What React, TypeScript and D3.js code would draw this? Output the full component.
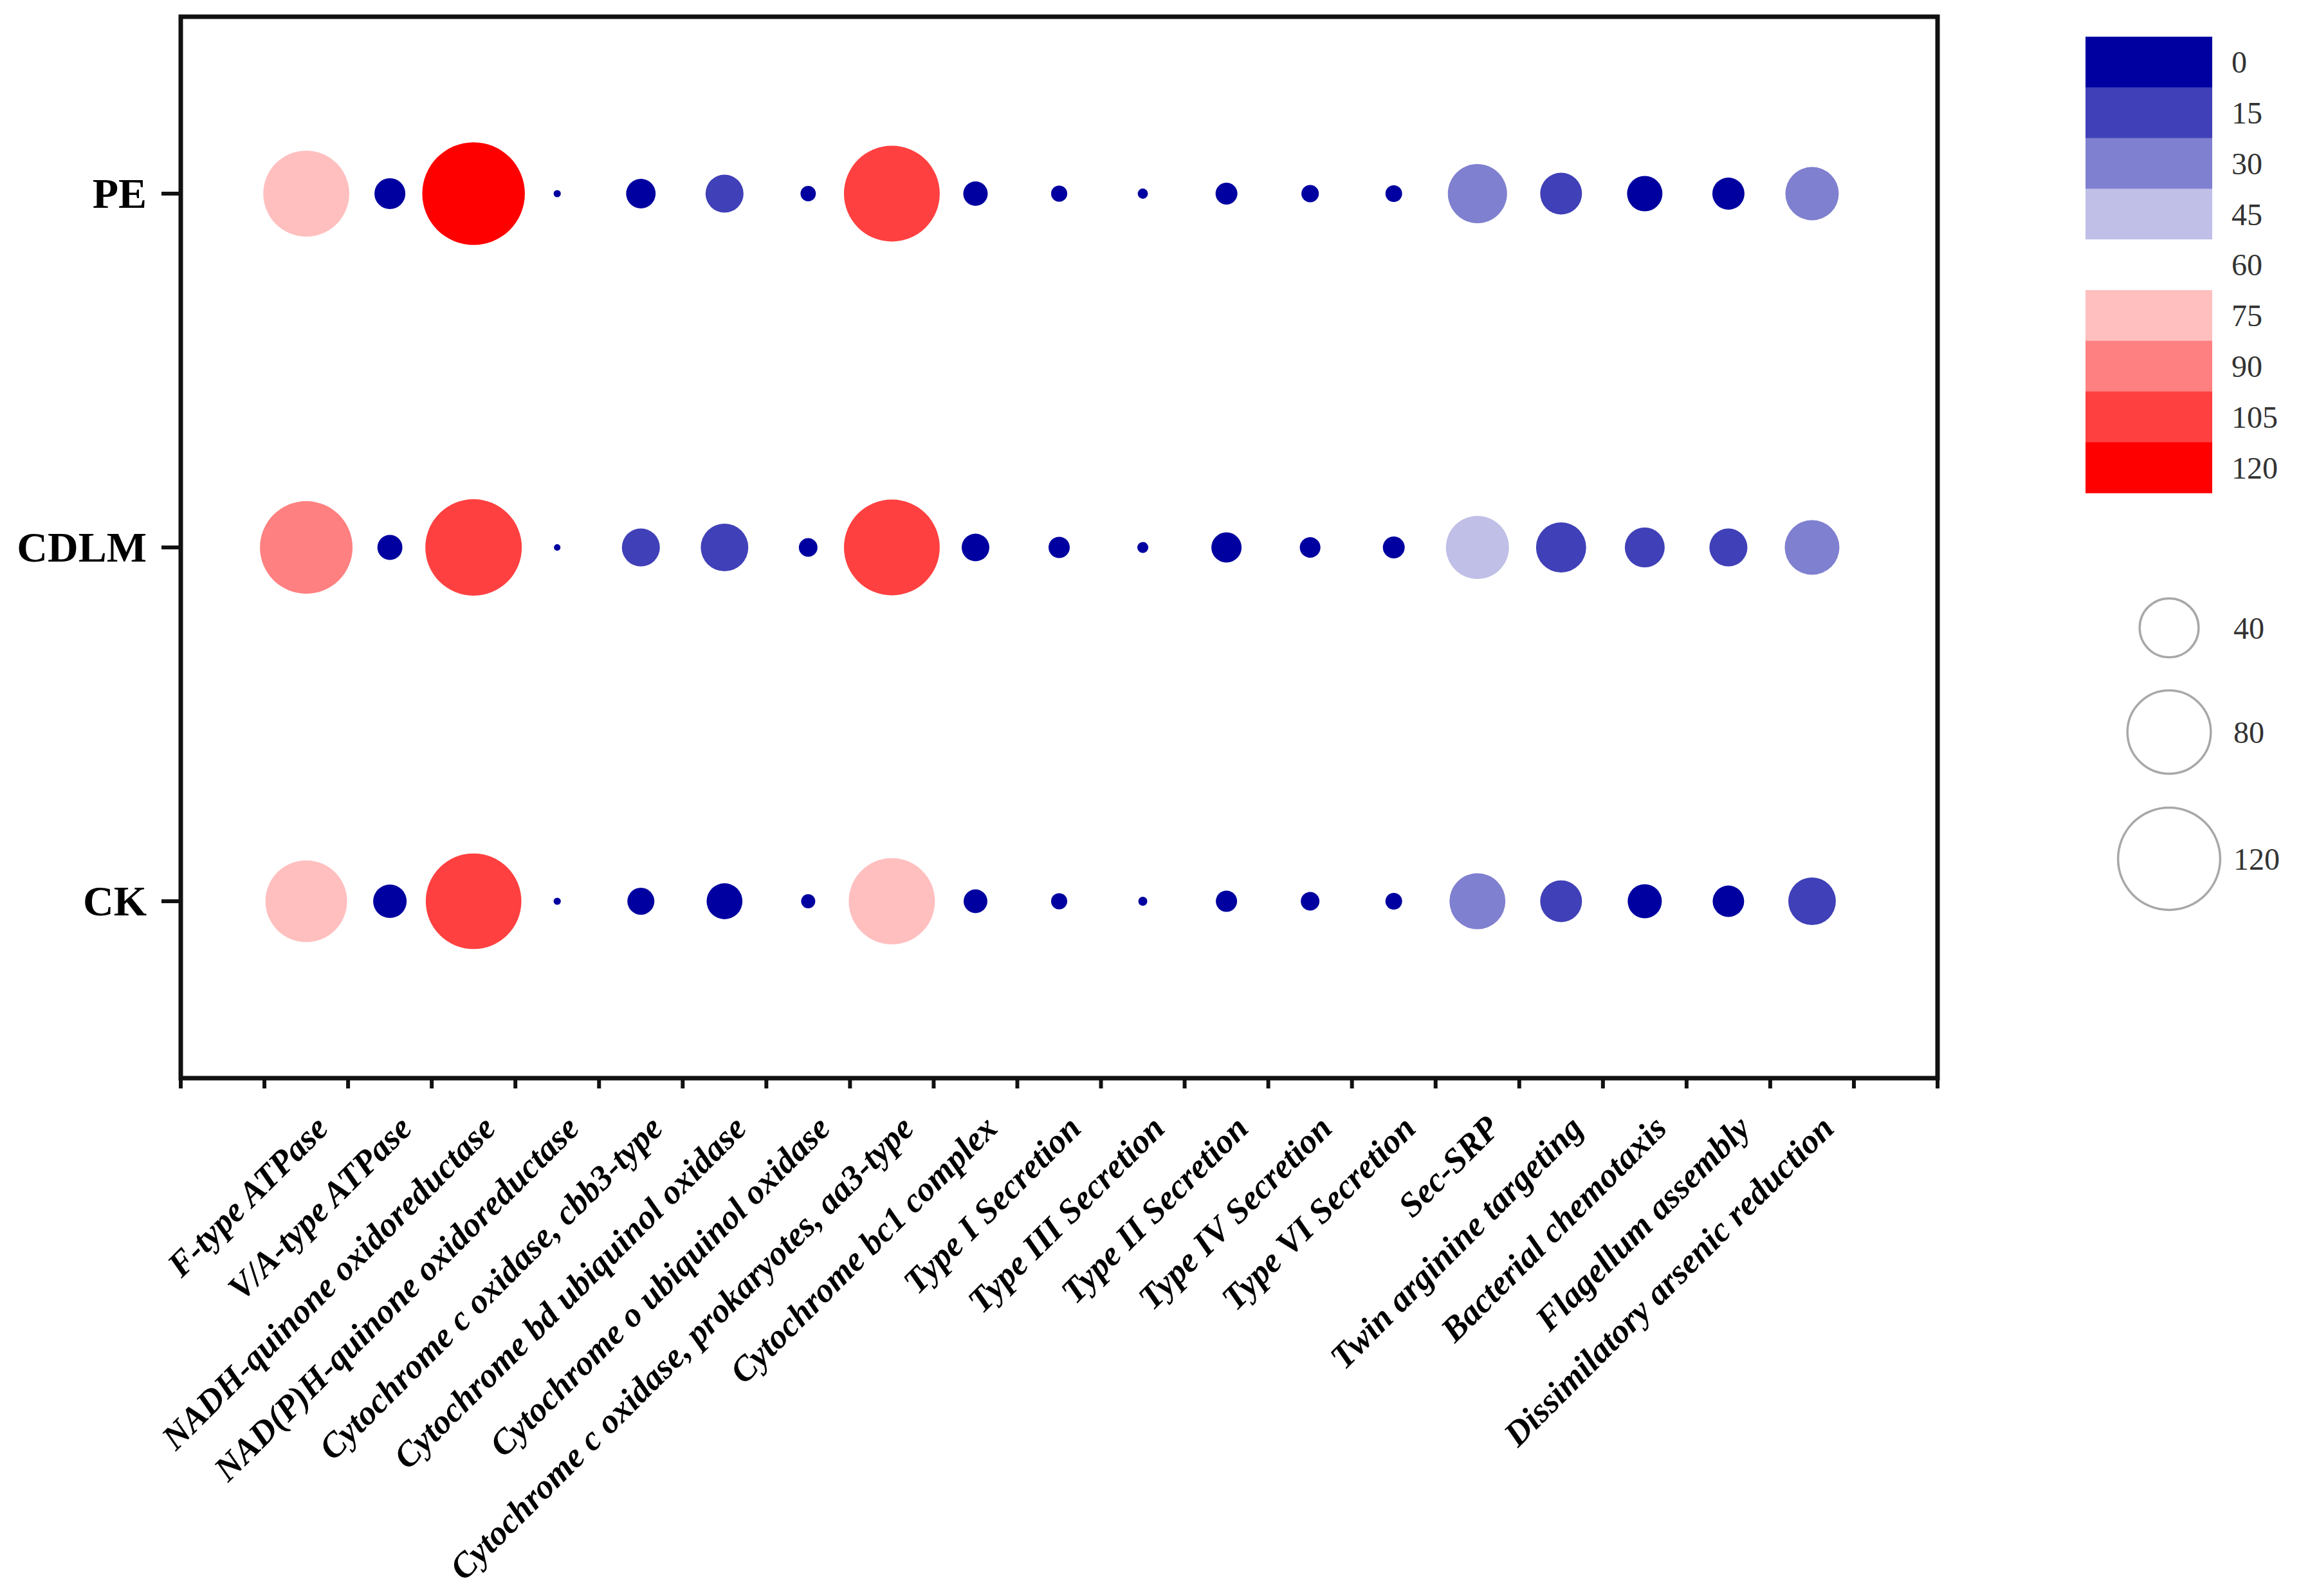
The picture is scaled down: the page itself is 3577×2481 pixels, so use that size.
import React from 'react';
import * as d3 from 'd3';

// categories along the x axis
const functions = [
  'F-type ATPase',
  'V/A-type ATPase',
  'NADH-quinone oxidoreductase',
  'NAD(P)H-quinone oxidoreductase',
  'Cytochrome c oxidase, cbb3-type',
  'Cytochrome bd ubiquinol oxidase',
  'Cytochrome o ubiquinol oxidase',
  'Cytochrome c oxidase, prokaryotes, aa3-type',
  'Cytochrome bc1 complex',
  'Type I Secretion',
  'Type III Secretion',
  'Type II Secretion',
  'Type IV Secretion',
  'Type VI Secretion',
  'Sec-SRP',
  'Twin arginine targeting',
  'Bacterial chemotaxis',
  'Flagellum assembly',
  'Dissimilatory arsenic reduction',
];

const groups = ['PE', 'CDLM', 'CK'];

// values (size + colour)
const peValues = [85, 11, 121, 0.6, 10, 16.6, 2.7, 105.5, 6.9, 3.0, 1.2, 5.5, 3.5, 3.2, 40.3, 20.1, 14.4, 11.9, 32.8];
const cdlmValues = [98.6, 7.2, 107, 0.5, 16.6, 26, 4.0, 105.5, 8.8, 5.2, 1.4, 10.5, 4.9, 5.5, 45.7, 28.9, 18.3, 16.6, 34.4];
const ckValues = [76.7, 12.9, 105.2, 0.6, 8.4, 14.8, 2.3, 85.4, 6.5, 3.0, 0.93, 5.2, 4.0, 3.2, 36, 20.1, 13.4, 11.4, 26];

// colour bar
const colorLevels = [0, 15, 30, 45, 60, 75, 90, 105, 120];
const colorSwatches = ['#0000a0', '#4040b8', '#8080d0', '#bfbfe7', '#ffffff', '#ffbfbf', '#ff8080', '#ff4040', '#ff0000'];

// bubble size legend
const sizeLegend = [40, 80, 120];

const W = 3577, H = 2481;
const left = 281, right = 3012, top = 26, bottom = 1676;

export default function App() {
  const rows: Record<string, number[]> = { PE: peValues, CDLM: cdlmValues, CK: ckValues };

  const x = d3.scaleBand<string>().domain(functions).range([left, right]).paddingInner(0).paddingOuter(1);
  const y = d3.scalePoint<string>().domain(groups).range([top, bottom]).padding(0.5);
  const r = d3.scaleSqrt().domain([0, 120]).range([0, 79.4]);
  const color = d3.scaleThreshold<number, string>().domain(colorLevels.slice(1)).range(colorSwatches);

  const step = x.step();
  const xTicks = d3.range(0, functions.length + 3).map(k => left + k * step);

  const blockH = 78.8, barX = 3242, barY = 57, barW = 197;
  const sizeY = [976, 1138, 1335];

  return (
    <svg width={W} height={H} style={{ position: 'absolute', left: 0, top: 0, background: '#fff' }}>
      <rect x={0} y={0} width={W} height={H} fill="#fff" />

      {/* bubbles */}
      {groups.map(g =>
        functions.map((f, i) => (
          <circle
            key={g + f}
            cx={x(f)! + x.bandwidth() / 2}
            cy={y(g)!}
            r={r(rows[g][i])}
            fill={color(rows[g][i])}
          />
        ))
      )}

      {/* frame */}
      <rect x={left} y={top} width={right - left} height={bottom - top} fill="none" stroke="#111" strokeWidth={7} />

      {/* y axis */}
      {groups.map(g => (
        <g key={g}>
          <line x1={left - 30} x2={left} y1={y(g)} y2={y(g)} stroke="#111" strokeWidth={6} />
          <text
            x={left - 53}
            y={y(g)}
            dy="0.34em"
            textAnchor="end"
            fontFamily="'Liberation Serif', 'Times New Roman', serif"
            fontWeight="bold"
            fontSize={66}
            fill="#000"
          >
            {g}
          </text>
        </g>
      ))}

      {/* x axis ticks */}
      {xTicks.map((t, k) => (
        <line key={k} x1={t} x2={t} y1={bottom} y2={bottom + 16} stroke="#111" strokeWidth={6} />
      ))}

      {/* x labels */}
      {functions.map(f => {
        const cx = x(f)! + x.bandwidth() / 2 + 37;
        const cy = bottom + 81;
        return (
          <text
            key={f}
            transform={`translate(${cx},${cy}) rotate(-45)`}
            textAnchor="end"
            fontFamily="'Liberation Serif', 'Times New Roman', serif"
            fontWeight="bold"
            fontStyle="italic"
            fontSize={54}
            fill="#000"
          >
            {f}
          </text>
        );
      })}

      {/* colour bar legend */}
      {colorLevels.map((lv, i) => (
        <g key={lv}>
          <rect x={barX} y={barY + i * blockH} width={barW} height={blockH + 0.5} fill={color(lv)} />
          <text
            x={3469}
            y={barY + i * blockH + blockH / 2}
            dy="0.35em"
            fontFamily="'Liberation Serif', 'Times New Roman', serif"
            fontSize={48}
            fill="#333"
          >
            {lv}
          </text>
        </g>
      ))}

      {/* size legend */}
      {sizeLegend.map((s, i) => (
        <g key={s}>
          <circle cx={3372} cy={sizeY[i]} r={r(s)} fill="none" stroke="#a8a8a8" strokeWidth={3.5} />
          <text
            x={3472}
            y={sizeY[i]}
            dy="0.35em"
            fontFamily="'Liberation Serif', 'Times New Roman', serif"
            fontSize={48}
            fill="#333"
          >
            {s}
          </text>
        </g>
      ))}
    </svg>
  );
}
